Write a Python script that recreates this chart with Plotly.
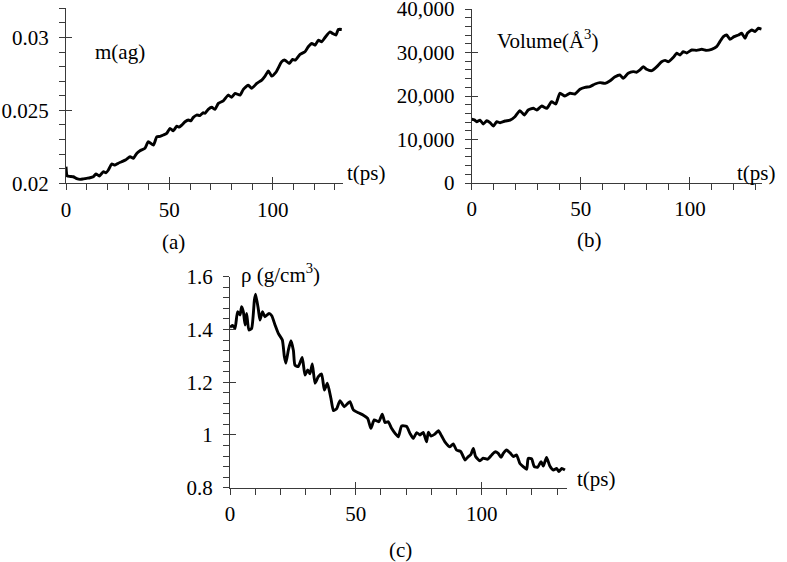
import plotly.graph_objects as go

# ---------------- data ----------------
t_a = [0, 0.6, 2.0, 3.5, 5.2, 6.8, 8.4, 10.0, 11.6, 13.2, 14.5, 16.1, 18.1, 19.3, 20.5,
       22.1, 23.7, 25.3, 26.9, 29.0, 31.0, 32.6, 34.2, 35.8, 38.2, 39.8, 42.3, 43.9,
       45.5, 47.1, 48.7, 50.3, 51.9, 53.6, 54.8, 56.0, 57.6, 59.2, 60.4, 61.6, 63.2,
       64.8, 66.4, 67.2, 68.8, 70.5, 72.1, 73.7, 76.1, 78.5, 80.1, 81.8, 84.2, 85.8,
       88.2, 89.8, 92.3, 94.7, 96.3, 97.9, 99.5, 101.5, 104.3, 105.9, 108.0, 109.6,
       111.0, 113.2, 115.6, 117.2, 118.9, 120.5, 122.1, 123.7, 125.3, 127.7, 129.0,
       130.6, 131.7, 133.4]
m_a = [0.02114, 0.0205, 0.02047, 0.02045, 0.02032, 0.02027, 0.0203, 0.02034, 0.02038,
       0.02045, 0.02064, 0.0205, 0.0208, 0.02072, 0.02091, 0.02132, 0.02125, 0.02138,
       0.02148, 0.02162, 0.02182, 0.02171, 0.02205, 0.02223, 0.0224, 0.02285, 0.02262,
       0.02319, 0.02322, 0.02331, 0.02342, 0.02377, 0.0236, 0.02392, 0.02385, 0.02399,
       0.02422, 0.02434, 0.02428, 0.02452, 0.02468, 0.02465, 0.02484, 0.0248, 0.02507,
       0.02521, 0.02507, 0.02548, 0.02565, 0.02605, 0.02589, 0.02616, 0.02605, 0.02644,
       0.02673, 0.02651, 0.02685, 0.02708, 0.02735, 0.02771, 0.02735, 0.0276, 0.02833,
       0.02845, 0.02822, 0.02849, 0.02845, 0.02884, 0.02902, 0.02936, 0.02959, 0.02947,
       0.02982, 0.0297, 0.03, 0.03038, 0.03027, 0.03016, 0.03055, 0.03055]

t_b = [0, 1.2, 2.3, 3.8, 5.3, 6.9, 8.4, 9.9, 11.5, 13.0, 15.3, 17.6, 19.8, 22.1, 24.1,
       25.9, 28.2, 29.8, 32.1, 34.4, 36.6, 38.5, 40.4, 42.7, 45.0, 47.3, 49.6, 51.9,
       54.2, 56.5, 58.8, 61.1, 63.4, 65.5, 67.9, 69.4, 71.7, 74.0, 75.5, 77.1, 78.6,
       80.1, 82.5, 84.8, 87.0, 88.6, 90.1, 92.4, 93.9, 95.4, 96.9, 98.5, 100.8, 103.1,
       105.4, 107.6, 109.9, 112.2, 113.7, 115.3, 116.8, 118.3, 120.2, 122.2, 123.7,
       125.2, 126.3, 128.3, 129.8, 131.3, 132.8]
v_b = [14650, 14500, 14090, 14460, 13560, 14320, 13860, 13100, 14090, 13860, 14250,
       14460, 15240, 16620, 15630, 16780, 17170, 16780, 17700, 17170, 18690, 18160,
       20620, 20000, 20620, 20460, 21540, 22000, 22180, 22760, 23070, 22900, 23500,
       24350, 24830, 24070, 25220, 25600, 25450, 25990, 26740, 26140, 25820, 26740,
       27890, 28200, 27890, 28900, 29820, 29430, 30190, 29900, 30580, 30500, 30730,
       30500, 30730, 31340, 32490, 33640, 34030, 33040, 33640, 34030, 34420, 33270,
       34420, 35180, 34800, 35570, 35340]

t_c = [0, 1.0, 2.0, 3.0, 4.0, 4.6, 5.3, 6.0, 6.6, 7.5, 8.6, 9.7, 10.2, 11.3, 11.9, 12.9,
       13.9, 15.5, 16.6, 17.9, 19.2, 20.8, 21.6, 22.2, 23.2, 24.2, 25.2, 25.8, 27.1,
       28.7, 29.8, 30.9, 31.8, 32.7, 33.8, 35.1, 36.4, 37.5, 38.7, 40.1, 41.1, 42.4,
       43.7, 45.4, 46.8, 47.7, 49.0, 51.0, 53.0, 54.7, 56.0, 57.3, 59.1, 60.5, 61.6,
       62.9, 64.2, 65.6, 66.9, 68.2, 70.2, 71.5, 72.8, 74.2, 75.5, 76.8, 78.1, 78.8,
       79.9, 81.4, 82.8, 84.1, 85.4, 87.4, 88.7, 90.0, 91.7, 93.4, 94.7, 95.7, 96.7,
       97.6, 99.3, 100.6, 102.4, 104.0, 105.3, 106.6, 107.7, 108.6, 109.9, 111.3,
       112.6, 113.9, 115.2, 116.5, 117.9, 118.5, 119.9, 120.9, 122.3, 123.6, 124.5,
       125.8, 127.1, 128.5, 129.8, 130.7, 131.8, 133.1]
r_c = [1.408, 1.415, 1.404, 1.467, 1.455, 1.486, 1.467, 1.417, 1.461, 1.398, 1.404,
       1.512, 1.534, 1.474, 1.436, 1.467, 1.448, 1.461, 1.452, 1.417, 1.385, 1.36,
       1.297, 1.272, 1.322, 1.357, 1.32, 1.265, 1.259, 1.294, 1.227, 1.246, 1.232,
       1.269, 1.196, 1.221, 1.231, 1.17, 1.196, 1.139, 1.092, 1.1, 1.13, 1.107, 1.12,
       1.126, 1.095, 1.084, 1.075, 1.063, 1.025, 1.057, 1.05, 1.079, 1.047, 1.05,
       1.025, 1.006, 0.993, 1.034, 1.032, 1.006, 0.987, 1.009, 1.0, 1.01, 0.974, 1.01,
       0.996, 1.003, 1.016, 0.996, 0.974, 0.955, 0.966, 0.943, 0.937, 0.905, 0.918,
       0.925, 0.949, 0.918, 0.902, 0.912, 0.908, 0.924, 0.936, 0.93, 0.915, 0.93,
       0.943, 0.932, 0.918, 0.924, 0.892, 0.88, 0.87, 0.911, 0.909, 0.88, 0.878,
       0.899, 0.882, 0.915, 0.882, 0.867, 0.873, 0.861, 0.873, 0.867]

x_ticks = [0, 50, 100]
ya_ticks = [0.02, 0.025, 0.03]
ya_text = ["0.02", "0.025", "0.03"]
yb_ticks = [0, 10000, 20000, 30000, 40000]
yb_text = ["0", "10,000", "20,000", "30,000", "40,000"]
yc_ticks = [0.8, 1.0, 1.2, 1.4, 1.6]
yc_text = ["0.8", "1", "1.2", "1.4", "1.6"]

# ---------------- layout helpers ----------------
W, H = 787, 562
FONT = "Liberation Serif"
FS = 21
AX = "#3a3a3a"


def px(x):
    return x / W


def py(y):
    return 1 - y / H


fig = go.Figure()

panels = [
    (t_a, m_a, (66, 343), (183.3, 8.3), [0, 134], [0.02, 0.032], ya_ticks, ya_text, 0.001),
    (t_b, v_b, (471.7, 761.7), (183, 9), [0, 132.85], [0, 40000], yb_ticks, yb_text, 2000),
    (t_c, r_c, (230, 566.7), (487.7, 276.7), [0, 133.8], [0.8, 1.6], yc_ticks, yc_text, 0.04),
]

layout = {}
for i, (t, y, xs, ys, xr, yr, ytv, ytt, ymin) in enumerate(panels):
    n = i + 1
    xn = "x" if n == 1 else f"x{n}"
    yn = "y" if n == 1 else f"y{n}"
    fig.add_trace(go.Scatter(x=t, y=y, mode="lines", xaxis=xn, yaxis=yn,
                             line=dict(color="black", width=2.9, shape="spline", smoothing=0.5),
                             showlegend=False, hoverinfo="skip"))
    xdom = [px(xs[0]), px(xs[1])]
    ydom = [py(ys[0]), py(ys[1])]
    common = dict(showgrid=False, zeroline=False, showline=True, linecolor=AX, linewidth=1.2,
                  ticks="outside", ticklen=6, tickwidth=1.2, tickcolor=AX, automargin=False,
                  ticklabeloverflow="allow",
                  tickfont=dict(family=FONT, size=FS, color="black"))
    layout[f"xaxis{'' if n == 1 else n}"] = dict(
        domain=xdom, range=xr, anchor=yn, tickvals=x_ticks, ticktext=[str(v) for v in x_ticks],
        ticklabelstandoff=1,
        minor=dict(dtick=10, tick0=0, ticks="outside", ticklen=6, tickwidth=1.2, tickcolor=AX),
        **common)
    layout[f"yaxis{'' if n == 1 else n}"] = dict(
        domain=ydom, range=yr, anchor=xn, tickvals=ytv, ticktext=ytt,
        ticklabelstandoff=6,
        minor=dict(dtick=ymin, tick0=yr[0], ticks="outside", ticklen=6, tickwidth=1.2, tickcolor=AX),
        **common)
    # overlay axes providing the inner half of the "cross" major ticks
    on = n + 3
    fig.add_trace(go.Scatter(x=[], y=[], xaxis=f"x{on}", yaxis=f"y{on}", showlegend=False,
                             hoverinfo="skip"))
    inner = dict(showgrid=False, zeroline=False, showline=False, ticks="inside", ticklen=6,
                 tickwidth=1.2, tickcolor=AX, showticklabels=False, automargin=False)
    layout[f"xaxis{on}"] = dict(domain=xdom, range=xr, anchor=f"y{on}", overlaying=xn,
                                tickvals=x_ticks, **inner)
    layout[f"yaxis{on}"] = dict(domain=ydom, range=yr, anchor=f"x{on}", overlaying=yn,
                                tickvals=ytv, **inner)

ann_font = dict(family=FONT, size=FS, color="black")
annotations = [
    dict(text="m(ag)", x=px(93), y=py(52), xanchor="left", yanchor="middle"),
    dict(text="t(ps)", x=px(345), y=py(173), xanchor="left", yanchor="middle"),
    dict(text="(a)", x=px(173), y=py(242), xanchor="center", yanchor="middle"),
    dict(text="Volume(Å<sup>3</sup>)", x=px(495), y=py(40), xanchor="left", yanchor="middle"),
    dict(text="t(ps)", x=px(735), y=py(173), xanchor="left", yanchor="middle"),
    dict(text="(b)", x=px(589), y=py(240), xanchor="center", yanchor="middle"),
    dict(text="ρ (g/cm<sup>3</sup>)", x=px(239), y=py(273), xanchor="left", yanchor="middle"),
    dict(text="t(ps)", x=px(575), y=py(479), xanchor="left", yanchor="middle"),
    dict(text="(c)", x=px(400), y=py(550), xanchor="center", yanchor="middle"),
]
for a in annotations:
    a.update(xref="paper", yref="paper", showarrow=False, font=ann_font)

fig.update_layout(
    template="none",
    font=dict(family=FONT, size=FS, color="black"),
    width=W, height=H, margin=dict(l=0, r=0, t=0, b=0),
    paper_bgcolor="white", plot_bgcolor="white",
    annotations=annotations, **layout)

fig.write_html("out.html", config={"displayModeBar": False},
               post_script="document.body.style.margin='0';document.body.style.overflow='hidden';")
